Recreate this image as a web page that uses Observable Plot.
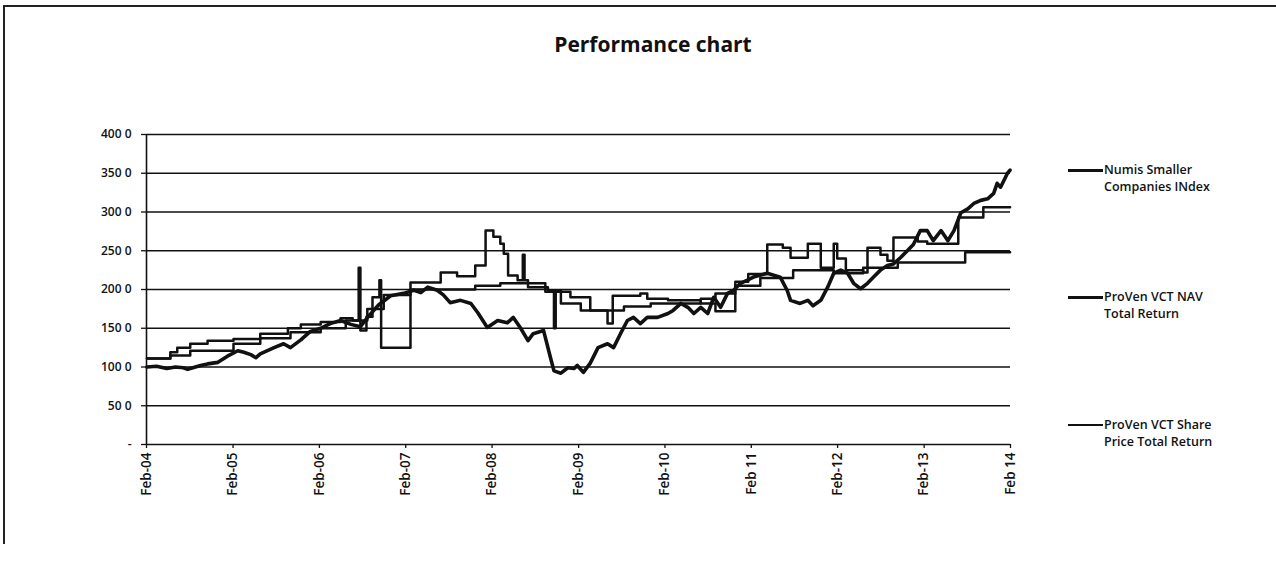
<!DOCTYPE html>
<html>
<head>
<meta charset="utf-8">
<script src="https://cdn.jsdelivr.net/npm/d3@7"></script>
<script src="https://cdn.jsdelivr.net/npm/@observablehq/plot@0.6"></script>
<style>
  html, body { margin: 0; padding: 0; background: #fff; }
  #wrap { position: relative; width: 1276px; height: 565px; background: #fff; overflow: hidden; }
  #frame { position: absolute; left: 3px; top: 5px; width: 1280px; height: 537px; border-top: 2px solid #222; border-left: 2px solid #222; }
  #title { position: absolute; left: 0; width: 1306px; top: 30px; text-align: center; font-family: "Open Sans", sans-serif; font-weight: 700; font-size: 21px; color: #111; }
  #chart { position: absolute; left: 0; top: 0; }
  .lg { position: absolute; font-family: "Open Sans", sans-serif; font-weight: 600; font-size: 12.5px; line-height: 17px; color: #111; }
  .lgline { position: absolute; background: #111; }
</style>
</head>
<body>
<div id="wrap">
  <div id="frame"></div>
  <div id="title">Performance chart</div>
  <div id="chart"></div>
  <div id="legend"></div>
</div>
<script>
// ---- Data (decimal years, index values) ----
const seriesNames = ["Numis Smaller Companies INdex", "ProVen VCT NAV Total Return", "ProVen VCT Share Price Total Return"];
const legendLines = [["Numis Smaller", "Companies INdex"], ["ProVen VCT NAV", "Total Return"], ["ProVen VCT Share", "Price Total Return"]];

const numisT = [2004.09,2004.20,2004.32,2004.42,2004.51,2004.56,2004.71,2004.79,2004.91,2005.02,2005.14,2005.21,2005.29,2005.35,2005.40,2005.56,2005.67,2005.75,2005.87,2005.98,2006.10,2006.21,2006.33,2006.45,2006.56,2006.65,2006.77,2006.91,2007.06,2007.18,2007.26,2007.34,2007.45,2007.52,2007.60,2007.72,2007.84,2007.92,2008.03,2008.15,2008.26,2008.33,2008.41,2008.50,2008.56,2008.68,2008.76,2008.80,2008.88,2008.96,2009.03,2009.07,2009.14,2009.22,2009.31,2009.42,2009.49,2009.57,2009.65,2009.72,2009.80,2009.88,2010.00,2010.12,2010.18,2010.27,2010.35,2010.42,2010.50,2010.58,2010.65,2010.73,2010.81,2010.88,2010.96,2011.04,2011.11,2011.27,2011.42,2011.50,2011.54,2011.65,2011.74,2011.80,2011.89,2011.97,2012.04,2012.12,2012.20,2012.27,2012.35,2012.43,2012.50,2012.58,2012.66,2012.73,2012.81,2012.89,2012.96,2013.04,2013.12,2013.19,2013.28,2013.36,2013.43,2013.51,2013.59,2013.66,2013.74,2013.82,2013.89,2013.93,2013.97,2014.05,2014.08];
const numisV = [100,101,98,100,99,97,102,104,106,114,121,119,116,112,117,125,130,125,135,146,150,156,160,155,152,165,180,192,195,199,196,203,199,193,183,186,182,170,151,160,157,164,151,134,143,147,112,95,92,99,98,102,93,105,125,130,125,143,160,164,156,164,164,169,173,182,177,169,177,169,190,177,195,199,208,212,216,221,216,199,186,182,186,179,186,203,221,225,221,208,201,208,216,225,231,233,241,250,258,276,276,263,276,263,276,299,304,311,315,317,324,337,332,350,354];

const navT = [2004.09,2004.36,2004.59,2005.09,2005.40,2005.75,2006.10,2006.39,2006.64,2006.83,2007.14,2007.89,2008.18,2008.70,2008.99,2009.22,2009.61,2009.92,2010.50,2010.67,2010.90,2011.19,2011.57,2012.04,2012.38,2012.78,2013.56,2014.08];
const navV = [111,115,121,130,137,145,150,160,175,193,200,205,208,197,190,173,178,182,188,195,205,215,225,221,228,235,248,248];

const shareT = [2004.09,2004.36,2004.44,2004.59,2004.79,2005.09,2005.40,2005.72,2005.87,2006.10,2006.33,2006.47,2006.54,2006.56,2006.63,2006.70,2006.78,2006.80,2007.14,2007.49,2007.68,2007.89,2008.01,2008.10,2008.18,2008.22,2008.27,2008.38,2008.44,2008.46,2008.50,2008.73,2008.80,2008.82,2008.88,2009.11,2009.42,2009.48,2009.80,2009.88,2010.12,2010.50,2010.67,2010.90,2011.05,2011.27,2011.45,2011.54,2011.74,2011.89,2012.04,2012.08,2012.18,2012.38,2012.43,2012.58,2012.66,2012.73,2013.01,2013.12,2013.48,2013.77,2014.08];
const shareV = [111,119,125,130,134,136,143,150,155,158,163,160,228,147,165,190,212,125,209,222,217,231,276,268,259,246,218,212,245,212,203,199,150,199,182,173,156,192,195,188,186,182,172,210,220,258,254,241,259,228,259,240,225,222,254,245,237,267,262,259,293,306,306];

const yTickValues = [0,50,100,150,200,250,300,350,400];
const yTickLabels = ["-","50 0","100 0","150 0","200 0","250 0","300 0","350 0","400 0"];
const xTickYears = [2004,2005,2006,2007,2008,2009,2010,2011,2012,2013,2014];
const xTickLabels = ["Feb-04","Feb-05","Feb-06","Feb-07","Feb-08","Feb-09","Feb-10","Feb 11","Feb-12","Feb-13","Feb 14"];

// ---- Build tables ----
function toDate(t) {
  const y = Math.floor(t);
  const s = Date.UTC(y, 0, 1), e = Date.UTC(y + 1, 0, 1);
  return new Date(s + (t - y) * (e - s));
}
const mk = (T, V) => T.map((t, i) => ({date: toDate(t), value: V[i]}));
const numis = mk(numisT, numisV);
const nav = mk(navT, navV);
const share = mk(shareT, shareV);
const xTicks = xTickYears.map(y => new Date(Date.UTC(y, 1, 1)));

const chart = Plot.plot({
  width: 1276,
  height: 565,
  marginLeft: 146,
  marginRight: 266,
  marginTop: 134,
  marginBottom: 121,
  style: {fontFamily: "'Open Sans', sans-serif", fontSize: "12px", fontWeight: 600, color: "#111", background: "transparent"},
  x: {type: "utc", domain: [xTicks[0], xTicks[xTicks.length - 1]]},
  y: {domain: [0, 400]},
  marks: [
    Plot.ruleY(yTickValues.slice(1), {stroke: "#111", strokeWidth: 1.3}),
    Plot.ruleY([0], {stroke: "#111", strokeWidth: 1.6}),
    Plot.ruleX([xTicks[0]], {stroke: "#111", strokeWidth: 1.6}),
    Plot.axisY({ticks: yTickValues, tickFormat: d => yTickLabels[yTickValues.indexOf(d)], tickSize: 5, tickPadding: 10, stroke: "#111", strokeWidth: 1.3, fontSize: 12, label: null}),
    Plot.axisX({ticks: xTicks, tickFormat: (d, i) => xTickLabels[i], tickRotate: -90, tickSize: 4, tickPadding: 4, stroke: "#111", strokeWidth: 1.3, fontSize: 13.5, label: null}),
    Plot.line(nav, {x: "date", y: "value", curve: "step-after", stroke: "#111", strokeWidth: 2.5}),
    Plot.line(share, {x: "date", y: "value", curve: "step-after", stroke: "#111", strokeWidth: 2.5}),
    Plot.line(numis, {x: "date", y: "value", curve: "linear", stroke: "#111", strokeWidth: 3.6, strokeLinejoin: "round"})
  ]
});
document.getElementById("chart").appendChild(chart);

// ---- Legend ----
const legendY = [170, 297, 425];
const legendW = [3, 3, 2];
const lg = document.getElementById("legend");
legendLines.forEach((lines, i) => {
  const ln = document.createElement("div");
  ln.className = "lgline";
  ln.style.left = "1068px"; ln.style.width = "35px";
  ln.style.top = (legendY[i] - legendW[i] / 2) + "px"; ln.style.height = legendW[i] + "px";
  lg.appendChild(ln);
  const tx = document.createElement("div");
  tx.className = "lg";
  tx.style.left = "1104px"; tx.style.top = (legendY[i] - 9) + "px";
  tx.innerHTML = lines[0] + "<br>" + lines[1];
  tx.title = seriesNames[i];
  lg.appendChild(tx);
});
</script>
</body>
</html>
